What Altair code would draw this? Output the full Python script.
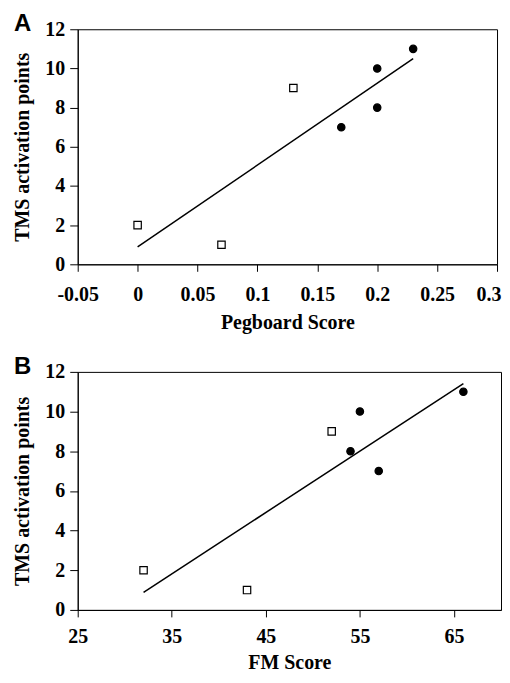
import altair as alt
import pandas as pd

# Panel A: Pegboard score vs TMS activation points
peg_x = [0.0, 0.07, 0.13, 0.17, 0.20, 0.20, 0.23]
peg_y = [2, 1, 9, 7, 10, 8, 11]
# Panel B: FM score vs TMS activation points
fm_x = [32, 43, 52, 54, 55, 57, 66]
fm_y = [2, 1, 9, 8, 10, 7, 11]
groups = ["open", "open", "open", "filled", "filled", "filled", "filled"]

peg_ticks = [-0.05, 0, 0.05, 0.1, 0.15, 0.2, 0.25, 0.3]
fm_ticks = [25, 35, 45, 55, 65]
y_ticks = [0, 2, 4, 6, 8, 10, 12]

SERIF = "Liberation Serif"

AX = dict(
    grid=False,
    domainColor="black",
    tickColor="black",
    labelFont=SERIF,
    titleFont=SERIF,
    labelFontWeight="bold",
    titleFontWeight="bold",
    labelFontSize=20,
    titleFontSize=20,
    labelColor="black",
    titleColor="black",
    labelFlush=False,
    labelOverlap=False,
)


def panel(xs, ys, letter, xtitle, xdomain, xticks, w, h, xlp, xtp, edge_fix):
    df = pd.DataFrame({"x": xs, "y": ys, "g": groups})
    base = alt.Chart(df)
    extra = {}
    if edge_fix is not None:
        extra = dict(
            labelAlign={"condition": {"test": f"datum.value >= {edge_fix}", "value": "right"}, "value": "center"},
            labelOffset={"condition": {"test": f"datum.value >= {edge_fix}", "value": 4}, "value": 0},
        )
    xenc = alt.X(
        "x:Q",
        scale=alt.Scale(domain=xdomain, nice=False, zero=False),
        axis=alt.Axis(
            values=xticks,
            title=xtitle,
            labelExpr="datum.value < 0 ? '-' + format(-datum.value, '~g') : format(datum.value, '~g')",
            tickSize=7,
            labelPadding=xlp,
            titlePadding=xtp,
            **extra,
            **AX,
        ),
    )
    yenc = alt.Y(
        "y:Q",
        scale=alt.Scale(domain=[0, 12], nice=False),
        axis=alt.Axis(
            values=y_ticks,
            title="TMS activation points",
            tickSize=8,
            labelPadding=5,
            titlePadding=12,
            **AX,
        ),
    )
    line = base.transform_regression("x", "y").mark_line(
        color="black", strokeWidth=1.5
    ).encode(x=xenc, y=yenc)
    pts = base.mark_point(size=55, strokeWidth=1.2, opacity=1).encode(
        x=xenc,
        y=yenc,
        shape=alt.Shape(
            "g:N",
            scale=alt.Scale(domain=["open", "filled"], range=["square", "circle"]),
            legend=None,
        ),
        fill=alt.Fill(
            "g:N",
            scale=alt.Scale(domain=["open", "filled"], range=["white", "black"]),
            legend=None,
        ),
        stroke=alt.value("black"),
    )
    lab = alt.Chart(pd.DataFrame({"t": [letter]})).mark_text(
        font="Liberation Sans",
        fontWeight="bold",
        fontSize=24,
        align="left",
        baseline="top",
        color="black",
    ).encode(text="t:N", x=alt.value(-64), y=alt.value(-17))
    return alt.layer(line, pts, lab).properties(width=w, height=h)


a = panel(peg_x, peg_y, "A", "Pegboard Score", [-0.05, 0.3], peg_ticks, 421, 236, 13, 8, 0.29)
b = panel(fm_x, fm_y, "B", "FM Score", [25, 70], fm_ticks, 425, 239, 10, 6, None)

chart = (
    alt.vconcat(a, b, spacing=21)
    .resolve_scale(x="independent", shape="independent", fill="independent")
    .properties(padding={"left": 4, "top": 2, "right": 0, "bottom": 0})
    .configure_view(stroke="black", strokeWidth=1)
)

chart.save("out.html", embed_options={"renderer": "svg", "actions": False})
